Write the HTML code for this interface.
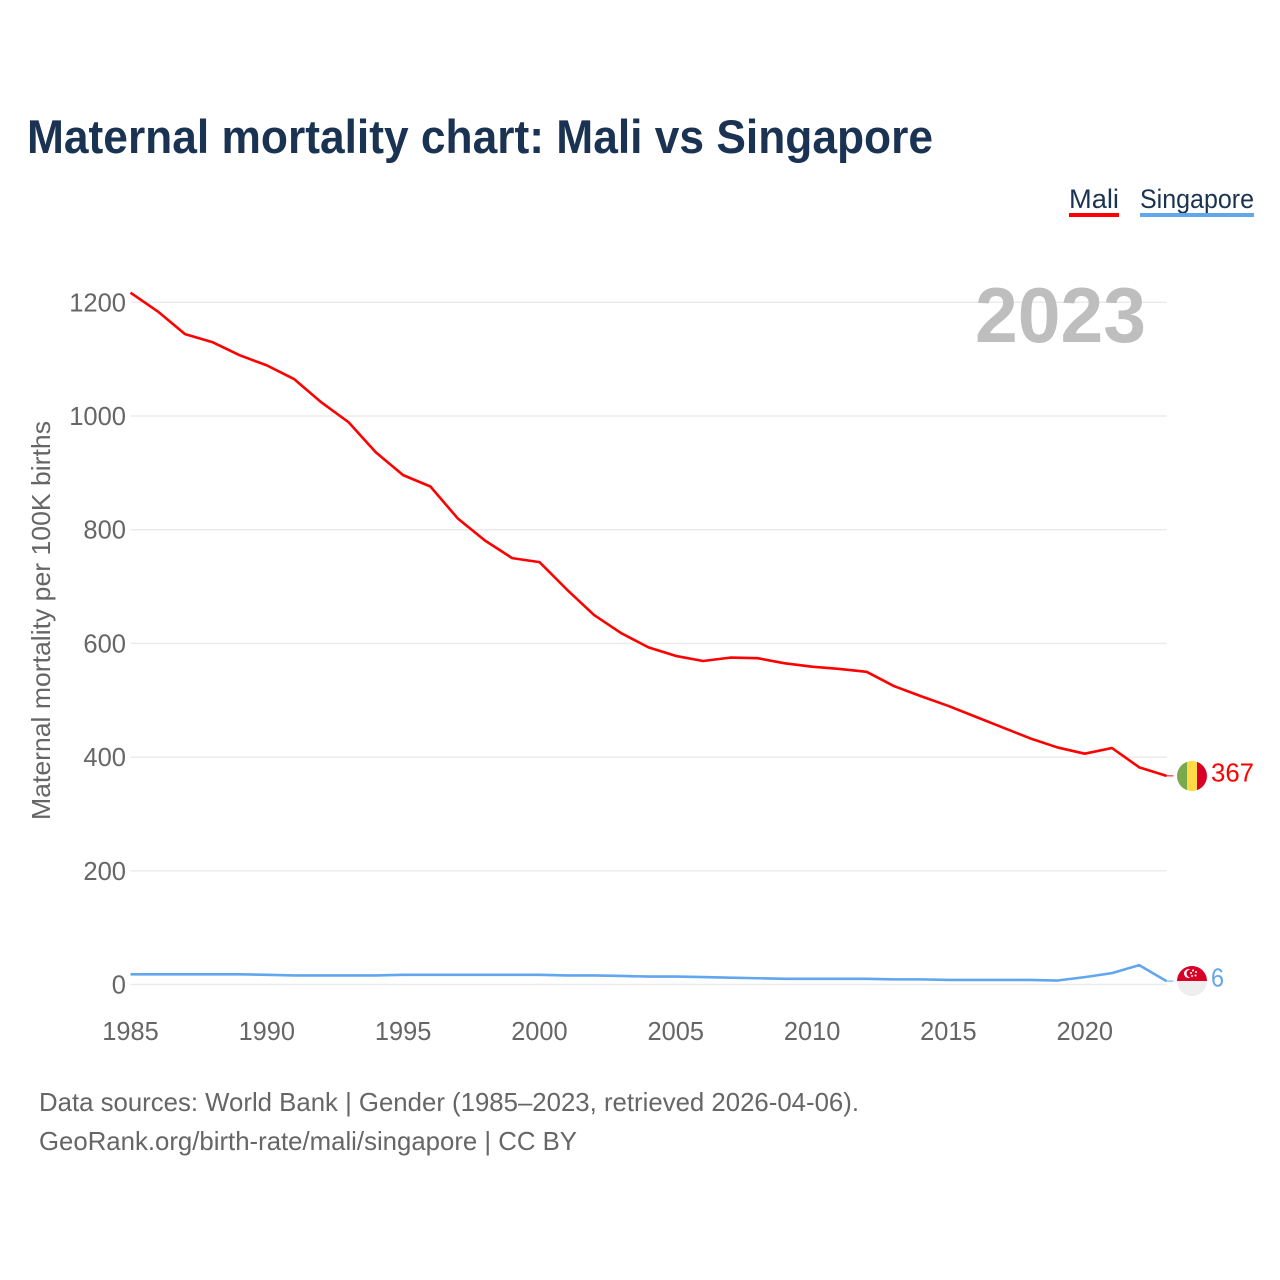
<!DOCTYPE html>
<html lang="en">
<head>
<meta charset="utf-8">
<title>Maternal mortality chart: Mali vs Singapore</title>
<style>
html,body{margin:0;padding:0;background:#fff;width:1280px;height:1280px;overflow:hidden}
svg{display:block}
text{font-family:"Liberation Sans",sans-serif}
</style>
</head>
<body>
<svg id="chart" xmlns="http://www.w3.org/2000/svg" width="1280" height="1280" viewBox="0 0 1280 1280">
  <rect width="1280" height="1280" fill="#fff"/>
  <text x="27" y="153" font-size="47" font-weight="700" fill="#1a3352" textLength="906" lengthAdjust="spacingAndGlyphs">Maternal mortality chart: Mali vs Singapore</text>
  <g>
    <g>
      <text x="1069" y="208" font-size="27" fill="#1a3352" textLength="50" lengthAdjust="spacingAndGlyphs">Mali</text>
      <rect x="1069" y="213" width="50" height="4" fill="#ff0000"/>
    </g>
    <g>
      <text x="1140" y="208" font-size="27" fill="#1a3352" textLength="114" lengthAdjust="spacingAndGlyphs">Singapore</text>
      <rect x="1140" y="213" width="114" height="4" fill="#62a6ee"/>
    </g>
  </g>
  <g id="grid"></g>
  <g id="yticks"></g>
  <g id="xticks"></g>
  <text transform="translate(50,820) rotate(-90)" font-size="26" fill="#666" textLength="399" lengthAdjust="spacingAndGlyphs">Maternal mortality per 100K births</text>
  <text x="975" y="342" font-size="78" font-weight="700" fill="#bebebe" textLength="171" lengthAdjust="spacingAndGlyphs">2023</text>
  <g id="lines"></g>
  <defs>
    <clipPath id="clip-mali"><circle cx="1192" cy="776" r="15"/></clipPath>
    <clipPath id="clip-sg"><circle cx="1192" cy="981" r="15"/></clipPath>
  </defs>
  <g clip-path="url(#clip-mali)">
    <rect x="1177" y="761" width="10" height="30" fill="#78a94a"/>
    <rect x="1187" y="761" width="10" height="30" fill="#ffda44"/>
    <rect x="1197" y="761" width="10" height="30" fill="#d80027"/>
  </g>
  <g clip-path="url(#clip-sg)">
    <rect x="1177" y="966" width="30" height="15" fill="#d80027"/>
    <rect x="1177" y="981" width="30" height="15" fill="#eeeeee"/>
    <circle cx="1188.5" cy="973.5" r="4.5" fill="#fff"/>
    <circle cx="1190.5" cy="973.5" r="4" fill="#d80027"/>
    <circle cx="1193" cy="970.5" r="1" fill="#fff"/>
    <circle cx="1196" cy="972" r="1" fill="#fff"/>
    <circle cx="1195.5" cy="975.5" r="1" fill="#fff"/>
    <circle cx="1192" cy="976" r="1" fill="#fff"/>
    <circle cx="1191" cy="973" r="1" fill="#fff"/>
  </g>
  <text id="label-mali" x="1211" y="781.5" font-size="26" fill="#ff0000" textLength="43" lengthAdjust="spacingAndGlyphs"></text>
  <text id="label-sg" x="1211" y="986.5" font-size="26" fill="#62a6ee" textLength="13" lengthAdjust="spacingAndGlyphs"></text>
  <g>
    <text x="39" y="1111" font-size="26" fill="#666" textLength="820" lengthAdjust="spacingAndGlyphs">Data sources: World Bank | Gender (1985–2023, retrieved 2026-04-06).</text>
    <text x="39" y="1150" font-size="26" fill="#666" textLength="538" lengthAdjust="spacingAndGlyphs">GeoRank.org/birth-rate/mali/singapore | CC BY</text>
  </g>
</svg>
<script>
const years = [1985,1986,1987,1988,1989,1990,1991,1992,1993,1994,1995,1996,1997,1998,1999,2000,2001,2002,2003,2004,2005,2006,2007,2008,2009,2010,2011,2012,2013,2014,2015,2016,2017,2018,2019,2020,2021,2022,2023];
const maliValues = [1217,1184,1144,1130,1107,1089,1065,1024,989,936,896,876,820,781,750,743,695,650,618,593,578,569,575,574,565,559,555,550,525,507,490,471,452,433,417,406,416,382,367];
const singaporeValues = [18,18,18,18,18,17,16,16,16,16,17,17,17,17,17,17,16,16,15,14,14,13,12,11,10,10,10,10,9,9,8,8,8,8,7,13,20,34,6];
const yTickValues = [0,200,400,600,800,1000,1200];
const xTickValues = [1985,1990,1995,2000,2005,2010,2015,2020];

const NS = 'http://www.w3.org/2000/svg';
const plotLeft = 130.5, plotRight = 1166.5, zeroY = 984.5, topY = 302.3;
const xMin = years[0], xMax = years[years.length - 1], yTop = 1200;
function xScale(v) { return plotLeft + (v - xMin) * (plotRight - plotLeft) / (xMax - xMin); }
function yScale(v) { return zeroY - v * (zeroY - topY) / yTop; }
function make(tag, attrs, parent) {
  const el = document.createElementNS(NS, tag);
  for (const k in attrs) el.setAttribute(k, attrs[k]);
  parent.appendChild(el);
  return el;
}
const grid = document.getElementById('grid');
const yticks = document.getElementById('yticks');
const xticks = document.getElementById('xticks');
const lines = document.getElementById('lines');

yTickValues.forEach(function (v) {
  const line = make('line', {x1: plotLeft, x2: plotRight, y1: yScale(v), y2: yScale(v), stroke: '#ebebeb', 'stroke-width': 1.5}, grid);
  
  
  const t = make('text', {x: 126, y: yScale(v) + 9, 'font-size': 26, fill: '#666', 'text-anchor': 'end', textLength: String(v).length * 14.2, lengthAdjust: 'spacingAndGlyphs'}, yticks);
  
  
  t.textContent = v;
});
xTickValues.forEach(function (v) {
  const t = make('text', {x: xScale(v), y: 1040, 'font-size': 26, fill: '#666', 'text-anchor': 'middle', textLength: 56.5, lengthAdjust: 'spacingAndGlyphs'}, xticks);
  
  
  t.textContent = v;
});
function seriesPath(vals) {
  return vals.map(function (v, i) { return (i ? 'L' : 'M') + xScale(years[i]).toFixed(2) + ' ' + yScale(v).toFixed(2); }).join(' ');
}
const maliLine = make('path', {d: seriesPath(maliValues), fill: 'none', stroke: '#ff0000', 'stroke-width': 2.6, 'stroke-linejoin': 'round'}, lines);


const sgLine = make('path', {d: seriesPath(singaporeValues), fill: 'none', stroke: '#62a6ee', 'stroke-width': 2.6, 'stroke-linejoin': 'round'}, lines);


const lastMali = maliValues[maliValues.length - 1];
const lastSg = singaporeValues[singaporeValues.length - 1];
const stubMali = make('line', {x1: plotRight, x2: plotRight + 7, y1: yScale(lastMali), y2: yScale(lastMali), stroke: '#ff0000', 'stroke-width': 1}, lines);


const stubSg = make('line', {x1: plotRight, x2: plotRight + 7, y1: yScale(lastSg), y2: yScale(lastSg), stroke: '#62a6ee', 'stroke-width': 1}, lines);


document.getElementById('label-mali').textContent = lastMali;
document.getElementById('label-sg').textContent = lastSg;
</script>
</body>
</html>
